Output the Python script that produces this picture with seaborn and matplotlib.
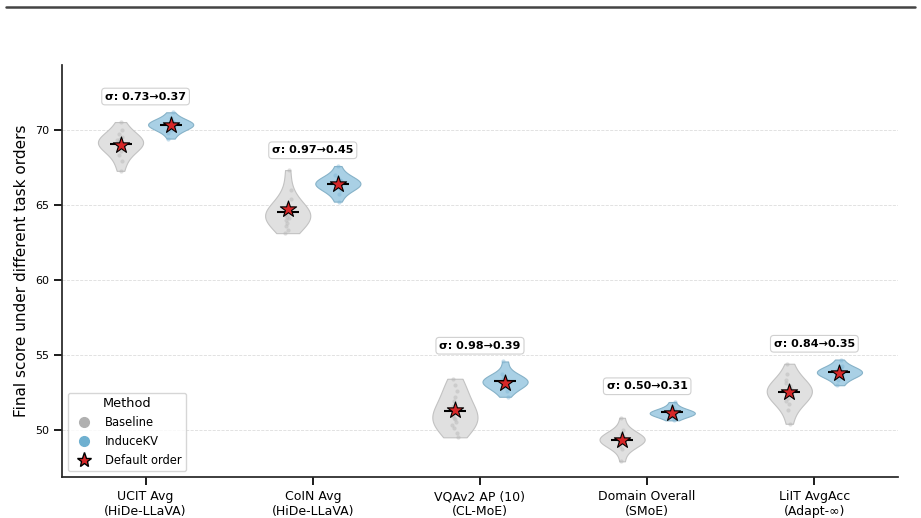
import numpy as np
import pandas as pd
import matplotlib
matplotlib.use("Agg")
import matplotlib.pyplot as plt
from matplotlib.lines import Line2D
import seaborn as sns

np.random.seed(3)

categories = ["UCIT Avg\n(HiDe-LLaVA)", "CoIN Avg\n(HiDe-LLaVA)", "VQAv2 AP (10)\n(CL-MoE)",
              "Domain Overall\n(SMoE)", "LiIT AvgAcc\n(Adapt-∞)"]
methods = ["Baseline", "InduceKV"]

baseline_scores = [
    [67.25, 67.9, 68.3, 68.6, 68.8, 68.9, 69.0, 69.1, 69.15, 69.2, 69.3, 69.4, 69.5, 69.7, 70.0, 70.5],
    [63.1, 63.3, 63.6, 63.8, 64.0, 64.1, 64.2, 64.3, 64.4, 64.5, 64.6, 64.8, 65.0, 65.4, 66.0, 67.3],
    [49.5, 49.8, 50.1, 50.3, 50.5, 50.7, 50.8, 50.9, 51.1, 51.3, 51.6, 51.9, 52.2, 52.6, 53.0, 53.4],
    [47.9, 48.7, 48.95, 49.1, 49.2, 49.25, 49.3, 49.35, 49.4, 49.45, 49.5, 49.6, 49.75, 50.0, 50.8],
    [50.4, 51.3, 51.7, 51.95, 52.15, 52.3, 52.4, 52.5, 52.6, 52.7, 52.8, 52.95, 53.1, 53.35, 53.7, 54.4],
]
inducekv_scores = [
    [69.4, 69.8, 70.0, 70.1, 70.2, 70.25, 70.3, 70.35, 70.4, 70.45, 70.5, 70.6, 70.75, 71.15],
    [65.2, 65.7, 65.95, 66.1, 66.2, 66.3, 66.35, 66.4, 66.45, 66.5, 66.55, 66.65, 66.8, 67.0, 67.57],
    [52.2, 52.6, 52.85, 53.0, 53.1, 53.15, 53.2, 53.25, 53.3, 53.4, 53.55, 53.7, 54.55],
    [50.63, 50.85, 50.95, 51.0, 51.05, 51.1, 51.12, 51.15, 51.2, 51.25, 51.35, 51.5, 51.85],
    [52.97, 53.35, 53.55, 53.65, 53.72, 53.78, 53.83, 53.88, 53.93, 54.0, 54.1, 54.25, 54.68],
]
default_baseline = [69.0, 64.7, 51.3, 49.35, 52.52]
default_inducekv = [70.3, 66.4, 53.15, 51.12, 53.79]
sigma_baseline = [0.73, 0.97, 0.98, 0.50, 0.84]
sigma_inducekv = [0.37, 0.45, 0.39, 0.31, 0.35]

offset = {"Baseline": -0.15, "InduceKV": 0.15}
fill = {"Baseline": "#e0e0e0", "InduceKV": "#a9d0e5"}
edge = {"Baseline": "#c2c2c2", "InduceKV": "#86b2c8"}
pt_col = {"Baseline": "#b5b5b5", "InduceKV": "#7db4d4"}
legend_col = {"Baseline": "#b0b0b0", "InduceKV": "#6fb0d0"}

rows = []
for i in range(len(categories)):
    for m, arr in zip(methods, [baseline_scores, inducekv_scores]):
        for v in arr[i]:
            rows.append({"cat": i, "method": m, "xpos": i + offset[m], "score": v})
df = pd.DataFrame(rows)

drows = []
for i in range(len(categories)):
    for m, arr in zip(methods, [default_baseline, default_inducekv]):
        drows.append({"method": m, "xpos": i + offset[m], "score": arr[i]})
ddf = pd.DataFrame(drows)

sns.set_theme(style="ticks")
plt.rcParams["font.family"] = ["DejaVu Sans"]
plt.rcParams["text.color"] = "black"
plt.rcParams["axes.labelcolor"] = "black"
plt.rcParams["xtick.color"] = "black"
plt.rcParams["ytick.color"] = "black"

fig = plt.figure(figsize=(9.21, 5.18), dpi=100)
ax = fig.add_axes([0.0673, 0.079, 0.9077, 0.7955])

for m in methods:
    sub = df[df.method == m]
    sns.violinplot(data=sub, x="xpos", y="score", native_scale=True, cut=0, inner=None,
                   density_norm="width", width=0.27, bw_adjust=1.2, color=fill[m],
                   linecolor=edge[m], linewidth=0.8, saturation=1, ax=ax, zorder=2)
    sns.stripplot(data=sub, x="xpos", y="score", native_scale=True, jitter=0.02, size=3,
                  color=pt_col[m], alpha=0.45, linewidth=0, ax=ax, zorder=3)

sns.pointplot(data=df, x="xpos", y="score", native_scale=True, estimator="mean",
              errorbar=None, color="black", marker="_", linestyle="none",
              markersize=16, markeredgewidth=1.5, ax=ax, zorder=4)

sns.scatterplot(data=ddf, x="xpos", y="score", marker="*", s=150, color="#d62728",
                edgecolor="black", linewidth=0.8, ax=ax, zorder=6, legend=False)

for i in range(len(categories)):
    top = max(max(baseline_scores[i]), max(inducekv_scores[i]))
    ax.text(i, top + 1.05, f"σ: {sigma_baseline[i]:.2f}→{sigma_inducekv[i]:.2f}",
            ha="center", va="center", fontsize=8, fontweight="bold",
            bbox=dict(boxstyle="round,pad=0.3", fc="white", ec="#d0d0d0", lw=0.8), zorder=7)

ax.set_xlim(-0.5, 4.5)
ax.set_ylim(46.85, 74.3)
ax.set_xticks(range(len(categories)))
ax.set_xticklabels(categories, fontsize=9)
ax.set_yticks([50, 55, 60, 65, 70])
ax.tick_params(axis="y", labelsize=8)
ax.set_xlabel("")
ax.set_ylabel("Final score under different task orders", fontsize=11)
ax.yaxis.grid(True, linestyle="--", linewidth=0.6, color="#dddddd", zorder=0)
ax.set_axisbelow(True)
sns.despine(ax=ax)

handles = [
    Line2D([], [], marker="o", ls="", color=legend_col["Baseline"], markersize=7, label="Baseline"),
    Line2D([], [], marker="o", ls="", color=legend_col["InduceKV"], markersize=7, label="InduceKV"),
    Line2D([], [], marker="*", ls="", markerfacecolor="#d62728", markeredgecolor="black",
           markersize=11, label="Default order"),
]
ax.legend(handles=handles, title="Method", loc="lower left", fontsize=8.3, title_fontsize=9.3,
          frameon=True, edgecolor="#cccccc", bbox_to_anchor=(0.0, 0.0))

fig.add_artist(Line2D([0.006, 0.993], [0.986, 0.986], transform=fig.transFigure,
                      color="#444444", lw=1.8))

fig.savefig("out.png", dpi=100)
